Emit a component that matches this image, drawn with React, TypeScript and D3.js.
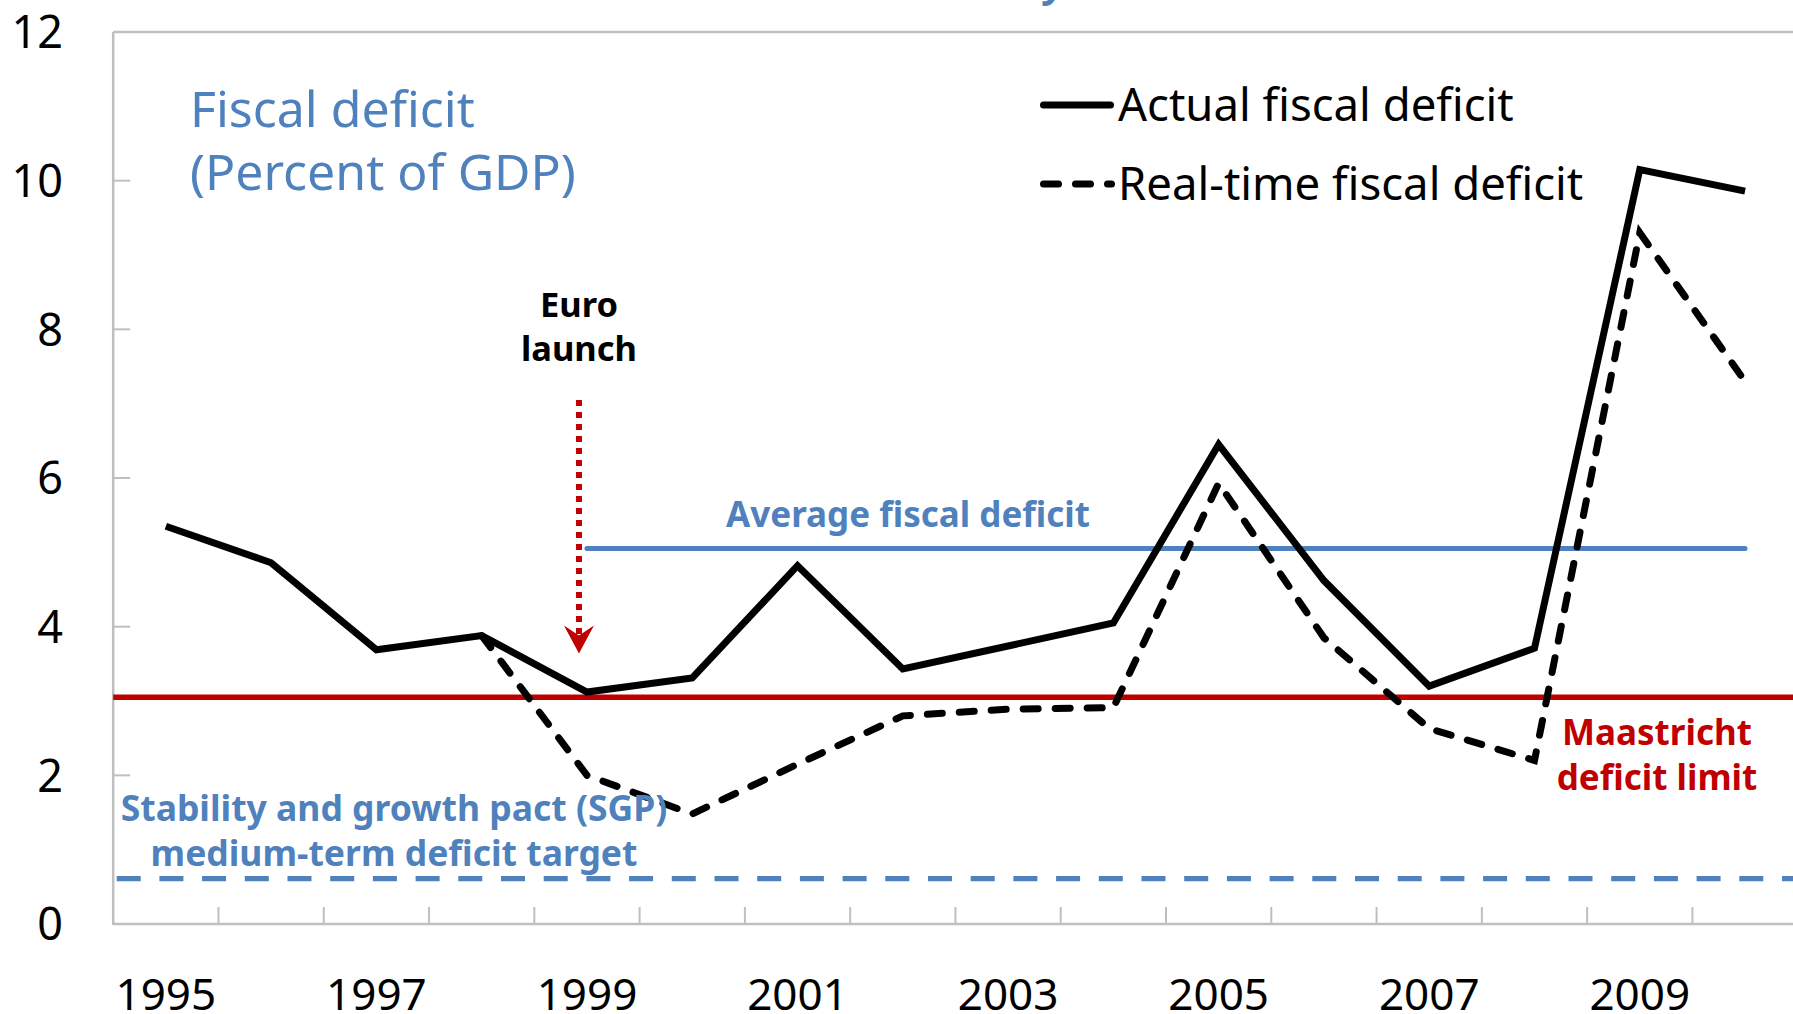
import React from "react";
import * as d3 from "d3";

const years = [1995, 1996, 1997, 1998, 1999, 2000, 2001, 2002, 2003, 2004, 2005, 2006, 2007, 2008, 2009, 2010];
const actualDeficit = [5.35, 4.86, 3.69, 3.88, 3.12, 3.31, 4.82, 3.43, 3.74, 4.05, 6.45, 4.62, 3.2, 3.71, 10.15, 9.86];
const realTimeYears = [1998, 1999, 2000, 2001, 2002, 2003, 2004, 2005, 2006, 2007, 2008, 2009, 2010];
const realTimeDeficit = [3.88, 2.0, 1.48, 2.15, 2.8, 2.89, 2.91, 5.93, 3.85, 2.63, 2.2, 9.3, 7.3];
const maastrichtLimit = 3.05;
const averageDeficit = 5.05;
const averageStartYear = 1999;
const averageEndYear = 2010;
const sgpTarget = 0.61;
const euroLaunchYear = 1999;
const euroArrowFrom = 7.05;
const euroArrowTo = 3.64;
const yTicks = [0, 2, 4, 6, 8, 10, 12];
const xLabelYears = [1995, 1997, 1999, 2001, 2003, 2005, 2007, 2009];

const W = 1793;
const H = 1014;
const left = 113.2;
const right = 1797.7;
const top = 32;
const bottom = 924;

const BLUE = "#4F81BD";
const RED = "#C00000";
const GRID = "#BFBFBF";
const FONT = "'Noto Sans', 'Open Sans', sans-serif";

export default function App() {
  const x = d3.scaleBand<number>().domain(years).range([left, right]).padding(0);
  const y = d3.scaleLinear().domain([0, 12]).range([bottom, top]);
  const cx = (yr: number) => (x(yr) as number) + x.bandwidth() / 2;

  const line = d3
    .line<[number, number]>()
    .x((d) => cx(d[0]))
    .y((d) => y(d[1]));

  const actualPath = line(years.map((yr, i) => [yr, actualDeficit[i]]) as [number, number][]) || "";
  const realPath = line(realTimeYears.map((yr, i) => [yr, realTimeDeficit[i]]) as [number, number][]) || "";

  const boundaries = years.slice(1).map((yr) => x(yr) as number);
  const arrowX = cx(euroLaunchYear) - 8;
  const arrowTipY = y(euroArrowTo);
  const arrowTopY = y(euroArrowFrom);

  return (
    <svg width={W} height={H} style={{ position: "absolute", left: 0, top: 0, background: "#fff" }}>
      <rect x={0} y={0} width={W} height={H} fill="#fff" />
      {/* cut-off title descender */}
      <text x={1066} y={-3} textAnchor="end" fontFamily={FONT} fontWeight="bold" fontStyle="italic" fontSize={40} fill={BLUE}>
        y
      </text>

      {/* axes frame */}
      <line x1={left} x2={W + 10} y1={top} y2={top} stroke={GRID} strokeWidth={2.5} />
      <line x1={left} x2={left} y1={top} y2={bottom + 1} stroke={GRID} strokeWidth={2.5} />
      <line x1={left} x2={W + 10} y1={bottom} y2={bottom} stroke={GRID} strokeWidth={2.5} />

      {/* y ticks */}
      {yTicks.map((t) => (
        <g key={t}>
          {t > 0 && t < 12 && <line x1={left} x2={left + 17} y1={y(t)} y2={y(t)} stroke={GRID} strokeWidth={2} />}
          <text x={63} y={y(t)} dy="0.36em" textAnchor="end" fontFamily={FONT} fontSize={45} fill="#000">
            {t}
          </text>
        </g>
      ))}

      {/* x ticks */}
      {boundaries.map((bx) => (
        <line key={bx} x1={bx} x2={bx} y1={bottom} y2={bottom - 17} stroke={GRID} strokeWidth={2} />
      ))}
      {xLabelYears.map((yr) => (
        <text key={yr} x={cx(yr)} y={1010} textAnchor="middle" fontFamily={FONT} fontSize={44} fill="#000">
          {yr}
        </text>
      ))}

      {/* reference lines */}
      <line x1={left + 3.5} x2={W + 10} y1={y(sgpTarget)} y2={y(sgpTarget)} stroke={BLUE} strokeWidth={5.3} strokeDasharray="24 18.7" />
      <line x1={left} x2={W + 10} y1={y(maastrichtLimit)} y2={y(maastrichtLimit)} stroke={RED} strokeWidth={5.5} />
      <line
        x1={cx(averageStartYear)}
        x2={cx(averageEndYear)}
        y1={y(averageDeficit)}
        y2={y(averageDeficit)}
        stroke={BLUE}
        strokeWidth={5}
        strokeLinecap="round"
      />

      {/* euro launch arrow */}
      <line x1={arrowX} x2={arrowX} y1={arrowTopY} y2={arrowTipY - 12} stroke={RED} strokeWidth={6} strokeDasharray="6 6" />
      <path
        d={`M${arrowX},${arrowTipY} L${arrowX - 15},${arrowTipY - 28} L${arrowX},${arrowTipY - 18} L${arrowX + 15},${arrowTipY - 28} Z`}
        fill={RED}
      />

      {/* series */}
      <path d={realPath} fill="none" stroke="#000" strokeWidth={7} strokeDasharray="15 17" strokeLinecap="round" />
      <path d={actualPath} fill="none" stroke="#000" strokeWidth={7} strokeLinejoin="miter" />

      {/* title */}
      <text fontFamily={FONT} fontSize={50} fill={BLUE}>
        <tspan x={190} y={127}>Fiscal deficit</tspan>
        <tspan x={190} y={190}>(Percent of GDP)</tspan>
      </text>

      {/* legend */}
      <line x1={1043.5} x2={1110.5} y1={105} y2={105} stroke="#000" strokeWidth={7} strokeLinecap="round" />
      <text x={1118} y={105} dy="0.36em" fontFamily={FONT} fontSize={45.5} fill="#000">
        Actual fiscal deficit
      </text>
      <line x1={1043.5} x2={1111.5} y1={184} y2={184} stroke="#000" strokeWidth={7} strokeDasharray="15 17" strokeLinecap="round" />
      <text x={1118} y={184} dy="0.36em" fontFamily={FONT} fontSize={45.5} fill="#000">
        Real-time fiscal deficit
      </text>

      {/* annotations */}
      <text textAnchor="middle" fontFamily={FONT} fontWeight="bold" fontSize={34.5} fill="#000">
        <tspan x={arrowX} y={317}>Euro</tspan>
        <tspan x={arrowX} y={361}>launch</tspan>
      </text>
      <text x={908} y={y(averageDeficit) - 22} textAnchor="middle" fontFamily={FONT} fontWeight="bold" fontSize={35} fill={BLUE}>
        Average fiscal deficit
      </text>
      <text textAnchor="middle" fontFamily={FONT} fontWeight="bold" fontSize={35.5} fill={BLUE}>
        <tspan x={394} y={821}>Stability and growth pact (SGP)</tspan>
        <tspan x={394} y={866}>medium-term deficit target</tspan>
      </text>
      <text textAnchor="middle" fontFamily={FONT} fontWeight="bold" fontSize={35} fill={RED}>
        <tspan x={1657} y={745}>Maastricht</tspan>
        <tspan x={1657} y={790}>deficit limit</tspan>
      </text>
    </svg>
  );
}
